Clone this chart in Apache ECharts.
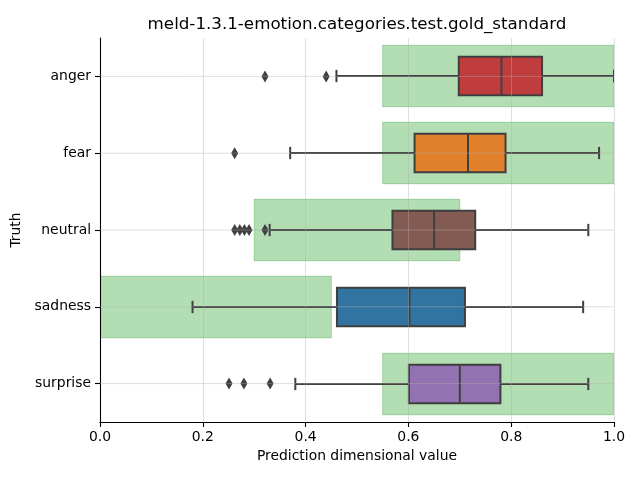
<!DOCTYPE html>
<html>
<head>
<meta charset="utf-8">
<script src="https://cdn.jsdelivr.net/npm/echarts@6/dist/echarts.min.js"></script>
<style>html,body{margin:0;padding:0;background:#fff}#c{width:640px;height:480px}</style>
</head>
<body>
<div id="c"></div>
<script>
const categories = ['anger', 'fear', 'neutral', 'sadness', 'surprise'];
const whiskerLow = [0.46, 0.37, 0.33, 0.18, 0.38];
const q1 = [0.698, 0.612, 0.569, 0.461, 0.601];
const median = [0.781, 0.716, 0.650, 0.602, 0.700];
const q3 = [0.860, 0.789, 0.730, 0.710, 0.779];
const whiskerHigh = [1.0, 0.971, 0.950, 0.940, 0.950];
const rangeLow = [0.55, 0.55, 0.30, 0.0, 0.55];
const rangeHigh = [1.0, 1.0, 0.70, 0.45, 1.0];
const outliers = [[0.321, 0.440], [0.262], [0.262, 0.272, 0.281, 0.290, 0.321], [], [0.251, 0.280, 0.331]];
const boxColors = ['#c03d3e', '#e1812c', '#845b53', '#3274a1', '#9372b2'];

const FONT = 'DejaVu Sans';
const LINE = '#3f3f3f';
const chart = echarts.init(document.getElementById('c'), null, {renderer: 'canvas'});

const outlierData = [];
outliers.forEach((arr, i) => arr.forEach(v => outlierData.push([v, categories[i]])));

const option = {
  backgroundColor: '#fff',
  animation: false,
  title: {
    text: 'meld-1.3.1-emotion.categories.test.gold_standard',
    left: 352, top: 11, textAlign: 'center',
    textStyle: {fontFamily: FONT, fontSize: 16.7, fontWeight: 'normal', color: '#000'}
  },
  grid: {left: 100, right: 26, top: 38, bottom: 58},
  xAxis: {
    type: 'value', min: 0, max: 1, interval: 0.2, z: 10,
    name: 'Prediction dimensional value', nameLocation: 'middle', nameGap: 27,
    nameTextStyle: {fontFamily: FONT, fontSize: 13.9, color: '#000'},
    axisLine: {show: true, lineStyle: {color: '#000', width: 1.1}},
    axisTick: {show: true, length: 5, lineStyle: {color: '#000', width: 1.1}},
    axisLabel: {fontFamily: FONT, fontSize: 13.9, color: '#000', margin: 8,
      formatter: v => v.toFixed(1)},
    splitLine: {show: true, lineStyle: {color: 'rgba(176,176,176,0.5)', width: 0.8}}
  },
  yAxis: {
    type: 'category', data: categories, inverse: true, z: 10,
    name: 'Truth', nameLocation: 'middle', nameGap: 69,
    nameTextStyle: {fontFamily: FONT, fontSize: 13.9, color: '#000'},
    axisLine: {show: true, lineStyle: {color: '#000', width: 1.1}},
    axisTick: {show: true, alignWithLabel: true, length: 5, lineStyle: {color: '#000', width: 1.1}},
    axisLabel: {fontFamily: FONT, fontSize: 13.9, color: '#000', margin: 9},
    splitLine: {show: false}
  },
  series: [
    {
      type: 'custom', z: 2, clip: true,
      data: categories.map((c, i) => [i]),
      renderItem: function (params, api) {
        const i = params.dataIndex;
        const cat = categories[i];
        const yc = Math.round(api.coord([0, cat])[1]);
        const band = api.size([0, 1])[1];
        const X = v => api.coord([v, cat])[0];
        const bh = band * 0.5, gh = band * 0.8, cap = band * 0.16;
        const ls = {stroke: LINE, lineWidth: 2};
        return {
          type: 'group',
          children: [
            {type: 'rect', shape: {x: X(rangeLow[i]), y: yc - gh / 2, width: X(rangeHigh[i]) - X(rangeLow[i]), height: gh},
              style: {fill: 'rgba(44,160,44,0.36)', stroke: 'rgba(44,160,44,0.36)', lineWidth: 1}},
            {type: 'line', shape: {x1: X(whiskerLow[i]), y1: yc, x2: X(q1[i]), y2: yc}, style: ls},
            {type: 'line', shape: {x1: X(q3[i]), y1: yc, x2: X(whiskerHigh[i]), y2: yc}, style: ls},
            {type: 'line', shape: {x1: X(whiskerLow[i]), y1: yc - cap / 2, x2: X(whiskerLow[i]), y2: yc + cap / 2}, style: ls},
            {type: 'line', shape: {x1: X(whiskerHigh[i]), y1: yc - cap / 2, x2: X(whiskerHigh[i]), y2: yc + cap / 2}, style: ls},
            {type: 'rect', shape: {x: X(q1[i]), y: yc - bh / 2, width: X(q3[i]) - X(q1[i]), height: bh},
              style: {fill: boxColors[i], stroke: LINE, lineWidth: 2}},
            {type: 'line', shape: {x1: X(median[i]), y1: yc - bh / 2, x2: X(median[i]), y2: yc + bh / 2}, style: ls}
          ]
        };
      }
    },
    {
      type: 'scatter', z: 3, data: outlierData,
      symbol: 'diamond', symbolSize: [7, 12],
      itemStyle: {color: LINE, opacity: 1}
    },
    {
      type: 'custom', z: 11, silent: true,
      data: categories.map((c, i) => [i]),
      renderItem: function (params, api) {
        const cat = categories[params.dataIndex];
        const yc = api.coord([0, cat])[1];
        const cs = params.coordSys;
        return {type: 'line', shape: {x1: cs.x, y1: yc, x2: cs.x + cs.width, y2: yc},
          style: {stroke: 'rgba(176,176,176,0.5)', lineWidth: 0.8}};
      }
    }
  ]
};
chart.setOption(option);
</script>
</body>
</html>
